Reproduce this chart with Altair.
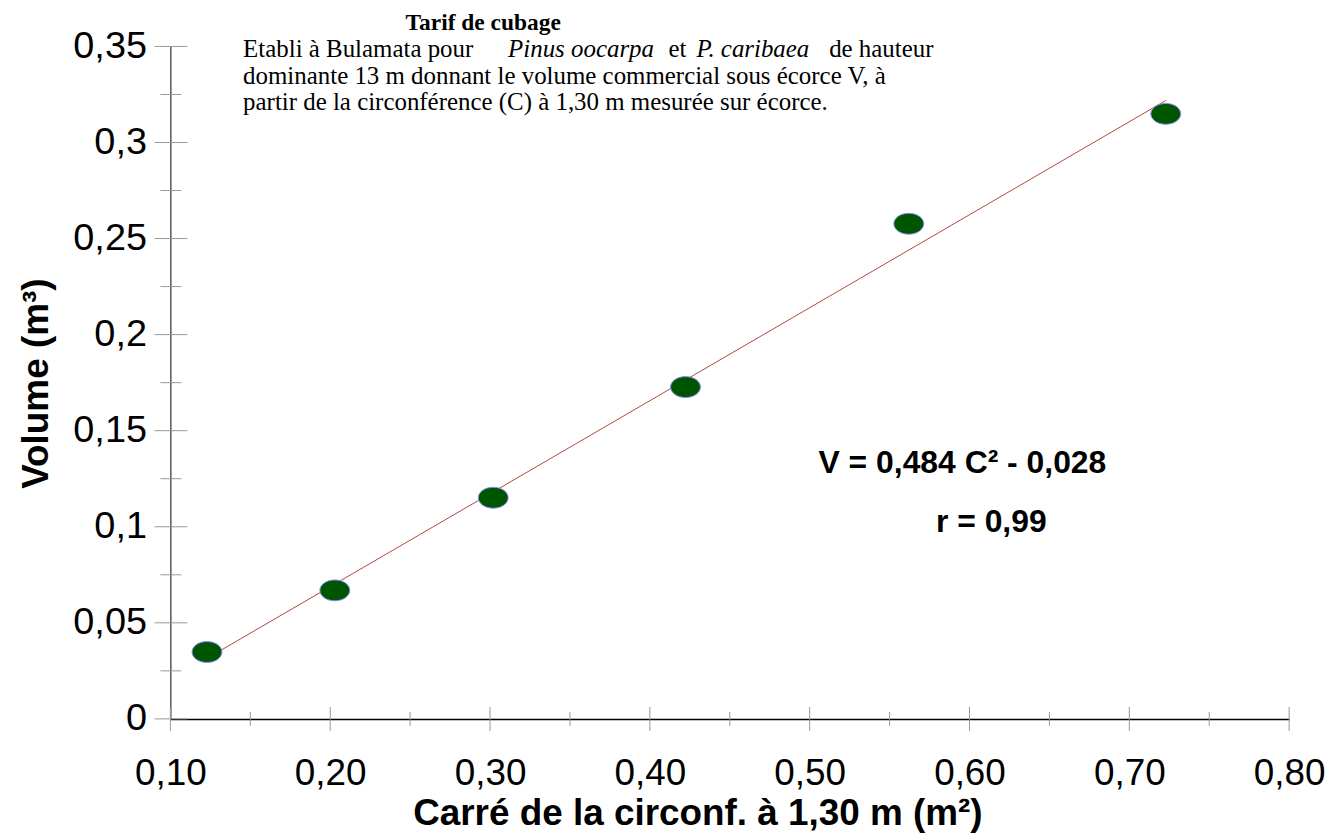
import altair as alt
import pandas as pd

# --- data ---
circ_sq = [0.1229, 0.2029, 0.302, 0.4223, 0.562, 0.7228]      # C² (m²)
volume = [0.0348, 0.0669, 0.1151, 0.1727, 0.2577, 0.3149]     # V (m³)
slope, intercept = 0.484, -0.028                             # V = 0.484 C² - 0.028

x_major = [0.10, 0.20, 0.30, 0.40, 0.50, 0.60, 0.70, 0.80]
x_minor = [0.15, 0.25, 0.35, 0.45, 0.55, 0.65, 0.75]
y_major = [0, 0.05, 0.10, 0.15, 0.20, 0.25, 0.30, 0.35]
y_minor = [0.025, 0.075, 0.125, 0.175, 0.225, 0.275, 0.325]

pts = pd.DataFrame({"c2": circ_sq, "v": volume})
fit_x = [circ_sq[0], circ_sq[-1]]
fit = pd.DataFrame({"c2": fit_x, "v": [slope * c + intercept for c in fit_x]})

W, H = 1123, 675
xs = alt.Scale(domain=[0.1, 0.8], nice=False, zero=False)
ys = alt.Scale(domain=[0, 0.35], nice=False, zero=False)

SANS = "Liberation Sans"
SERIF = "Liberation Serif"

x_axis = alt.Axis(
    values=x_major, tickSize=0, grid=False, domainColor="#000000", domainWidth=1.5,
    labelExpr="replace(format(datum.value, '.2f'), '.', ',')",
    labelFont=SANS, labelFontSize=37, labelColor="#000000", labelPadding=37,
    labelFlush=False, labelOverlap=False,
    title="Carré de la circonf. à 1,30 m (m²)", titleFont=SANS, titleFontSize=37,
    titleFontWeight="bold", titleColor="#000000", titleX=529, titleY=106,
    titleAlign="center", titleBaseline="alphabetic",
)
y_axis = alt.Axis(
    values=y_major, tickSize=0, grid=False, domainColor="#000000", domainWidth=1,
    labelExpr="replace(format(datum.value, '.2~f'), '.', ',')",
    labelFont=SANS, labelFontSize=38, labelColor="#000000", labelPadding=24,
    labelFlush=False, labelOverlap=False,
    title="Volume (m³)", titleFont=SANS, titleFontSize=37, titleFontWeight="bold",
    titleColor="#000000", titleX=-123, titleY=338, titleAngle=270,
    titleAlign="center", titleBaseline="alphabetic",
)

base_axes = alt.Chart(pts).mark_point(opacity=0).encode(
    x=alt.X("c2:Q", scale=xs, axis=x_axis),
    y=alt.Y("v:Q", scale=ys, axis=y_axis),
)

tick_color = "#999999"
ymaj = alt.Chart(pd.DataFrame({"v": y_major})).mark_rule(color=tick_color, strokeWidth=1).encode(
    y=alt.Y("v:Q", scale=ys), x=alt.value(-16), x2=alt.value(17))
ymin = alt.Chart(pd.DataFrame({"v": y_minor})).mark_rule(color=tick_color, strokeWidth=1).encode(
    y=alt.Y("v:Q", scale=ys), x=alt.value(-10), x2=alt.value(11))
xmaj = alt.Chart(pd.DataFrame({"c2": x_major})).mark_rule(color=tick_color, strokeWidth=1).encode(
    x=alt.X("c2:Q", scale=xs), y=alt.value(H - 12), y2=alt.value(H + 12))
xmin = alt.Chart(pd.DataFrame({"c2": x_minor})).mark_rule(color=tick_color, strokeWidth=1).encode(
    x=alt.X("c2:Q", scale=xs), y=alt.value(H - 7), y2=alt.value(H + 7))

fit_line = alt.Chart(fit).mark_line(color="#b5473f", strokeWidth=1).encode(
    x=alt.X("c2:Q", scale=xs), y=alt.Y("v:Q", scale=ys))

ellipse = "M -1 0 A 1 0.7 0 1 0 1 0 A 1 0.7 0 1 0 -1 0 Z"
points = alt.Chart(pts).mark_point(
    shape=ellipse, size=900, filled=True, fill="#005500", stroke="#8a8aff",
    strokeWidth=1, opacity=1,
).encode(x=alt.X("c2:Q", scale=xs), y=alt.Y("v:Q", scale=ys))


def txt(text, x, y, size, font=SANS, weight="normal", style="normal", align="left", **kw):
    return alt.Chart(pts).transform_filter("datum.c2 == %r" % circ_sq[0]).mark_text(
        text=text, font=font, fontSize=size, fontWeight=weight, fontStyle=style,
        align=align, baseline="alphabetic", color="#000000", **kw,
    ).encode(x=alt.value(x), y=alt.value(y))


ox, oy = 171, 45  # plot origin in page pixels
SUB = 25
sub_lines = [
    "dominante 13 m donnant le volume commercial sous écorce V, à",
    "partir de la circonférence (C) à 1,30 m mesurée sur écorce.",
]
texts = [
    txt("Tarif de cubage", 485 - ox, 29 - oy, 23.5, SERIF, "bold", align="center"),
    txt("Etabli à Bulamata pour", 244 - ox, 56 - oy, SUB, SERIF),
    txt("Pinus oocarpa", 510 - ox, 56 - oy, SUB, SERIF, style="italic"),
    txt("et", 671 - ox, 56 - oy, SUB, SERIF),
    txt("P. caribaea", 699 - ox, 56 - oy, SUB, SERIF, style="italic"),
    txt("de hauteur", 937 - ox, 56 - oy, SUB, SERIF, align="right"),
    txt(sub_lines, 244 - ox, 83 - oy, SUB, SERIF, lineHeight=26),
    txt("V = 0,484 C² - 0,028", 966 - ox, 473 - oy, 32, SANS, "bold", align="center"),
    txt("r = 0,99", 995 - ox, 532 - oy, 32, SANS, "bold", align="center"),
]

chart = alt.layer(base_axes, ymaj, ymin, xmaj, xmin, fit_line, points, *texts).properties(
    width=W, height=H,
    padding={"left": 163, "top": 37, "right": 40, "bottom": 118},
    autosize=alt.AutoSizeParams(type="none"),
    background="#ffffff",
).configure_view(stroke=None)

chart.save("out.html", embed_options={"renderer": "svg", "actions": False})
